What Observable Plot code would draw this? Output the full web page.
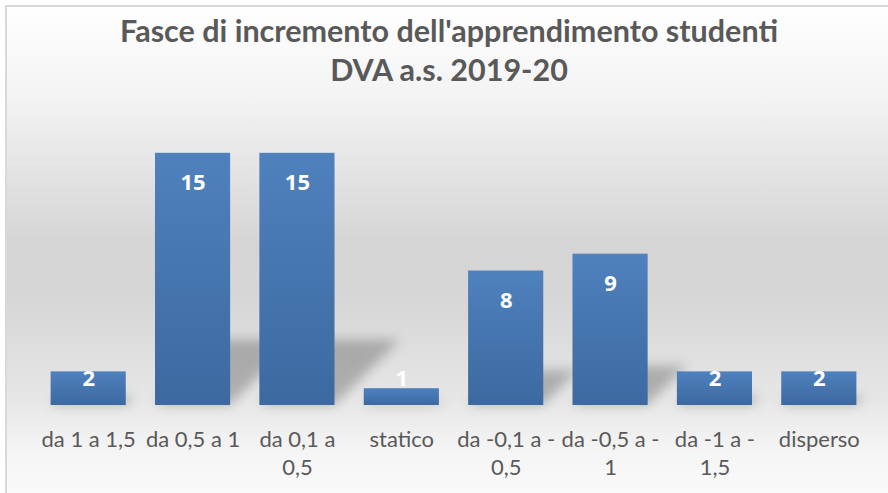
<!DOCTYPE html>
<html><head><meta charset="utf-8">
<script src="https://cdn.jsdelivr.net/npm/d3@7"></script>
<script src="https://cdn.jsdelivr.net/npm/@observablehq/plot@0.6"></script>
<style>
html,body{margin:0;padding:0;background:#fff;}
body{width:888px;height:493px;overflow:hidden;position:relative;font-family:Lato,"Open Sans",sans-serif;}
#bg{position:absolute;left:5px;top:5px;width:900px;height:500px;border-top:2px solid #d9d9d9;border-left:2px solid #d9d9d9;
 background:linear-gradient(to bottom,#ffffff 0px,#f3f3f3 90px,#d5d5d5 235px,#d6d6d6 290px,#e6e6e6 390px,#f5f5f5 445px,#fbfbfb 495px);}
#title{position:relative;z-index:1;height:100px;box-sizing:border-box;padding-top:11px;width:898px;text-align:center;font-weight:700;font-size:30.5px;line-height:39px;color:#595959;}
#plot{position:relative;z-index:1;height:393px;}
</style></head><body>
<div id="bg"></div>
<div id="title">Fasce di incremento dell'apprendimento studenti<br>DVA a.s. 2019-20</div>
<div id="plot"></div>
<script>
const categories = ["da 1 a 1,5","da 0,5 a 1","da 0,1 a 0,5","statico","da -0,1 a -0,5","da -0,5 a -1","da -1 a -1,5","disperso"];
const tickLabels = ["da 1 a 1,5","da 0,5 a 1","da 0,1 a\n0,5","statico","da -0,1 a -\n0,5","da -0,5 a -\n1","da -1 a -\n1,5","disperso"];
const values = [2,15,15,1,8,9,2,2];

const data = categories.map((c,i)=>({category:c, value:values[i]}));
const tall = data.filter(d=>d.value>2);
const short = data.filter(d=>d.value<=2);
const labelFont = "'Open Sans', Lato, sans-serif";

const chart = Plot.plot({
  width:888, height:393, marginTop:36, marginBottom:88, marginLeft:36, marginRight:17,
  style:{background:"transparent", fontFamily:"Lato, 'Open Sans', sans-serif", color:"#595959", overflow:"visible"},
  x:{domain:categories, paddingInner:0.28, paddingOuter:0.14, round:false, label:null},
  y:{domain:[0,16], axis:null},
  marks:[
    Plot.barY(data,{x:"category", y:"value", fill:"#000", fillOpacity:0.24}),
    Plot.barY(data,{x:"category", y:"value", fill:"#4f81bd"}),
    Plot.text(tall,{x:"category", y:"value", text:d=>String(d.value), dy:30, fill:"white", fontWeight:"bold", fontSize:22, fontFamily:labelFont}),
    Plot.text(short,{x:"category", y:0, text:d=>String(d.value), dy:-27, fill:"white", fontWeight:"bold", fontSize:22, fontFamily:labelFont}),
    Plot.axisX({tickSize:0, tickPadding:21, fontSize:22, lineHeight:1.3, fill:"#595959", label:null,
      tickFormat:d=>tickLabels[categories.indexOf(d)]})
  ]
});

const svg = d3.select(chart);
const defs = svg.insert("defs", ":first-child");
const grad = defs.append("linearGradient").attr("id","barGrad").attr("x1",0).attr("y1",0).attr("x2",0).attr("y2",1);
grad.append("stop").attr("offset","0%").attr("stop-color","#4f81bd");
grad.append("stop").attr("offset","100%").attr("stop-color","#3c69a0");
const filt = defs.append("filter").attr("id","shadowBlur").attr("x","-10%").attr("y","-60%").attr("width","120%").attr("height","220%");
filt.append("feGaussianBlur").attr("stdDeviation",6);

const barGroups = svg.selectAll('g[aria-label="bar"]').nodes();
const shadowG = barGroups[0];
const mainG = barGroups[1];
d3.select(mainG).attr("fill","url(#barGrad)");
const yb = chart.scale("y").apply(0);
const k = 0.26;
const outer = document.createElementNS("http://www.w3.org/2000/svg","g");
outer.setAttribute("filter","url(#shadowBlur)");
const inner = document.createElementNS("http://www.w3.org/2000/svg","g");
inner.setAttribute("transform",`matrix(1,0,${-k},${k},${k*yb},${yb*(1-k)})`);
shadowG.parentNode.insertBefore(outer, shadowG);
inner.appendChild(shadowG);
outer.appendChild(inner);

document.getElementById("plot").appendChild(chart);
</script>
</body></html>
